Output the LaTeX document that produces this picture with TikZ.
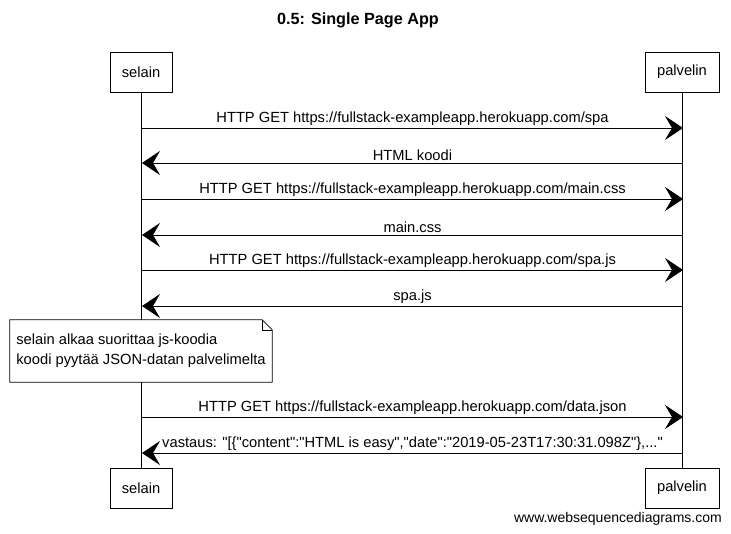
\documentclass[tikz,border=0pt]{standalone}
\usepackage{fontspec}
\setmainfont{Liberation Sans}[Ligatures=TeXOff]
\usetikzlibrary{arrows.meta, positioning}

\begin{document}
\begin{tikzpicture}[x=1pt, y=-1pt, >={Stealth[length=18pt, width=24pt, inset=7pt]},
    font=\fontsize{14.7}{17}\selectfont]
        % Tyylit
        \tikzstyle{osallistuja} = [draw, rectangle, fill=white, minimum height=40pt, inner xsep=12pt]
        \tikzstyle{viesti} = [->, line width=0.9pt]
        \tikzstyle{teksti} = [above, inner sep=2pt]
        \tikzstyle{muistio} = [fill=white, align=left, inner sep=6pt, minimum width=262pt, minimum height=62pt]

        \useasboundingbox (0,0) rectangle (731,533);

        % Otsikko
        \node [font=\fontsize{16.2}{19}\selectfont\bfseries] (otsikko) at (358,20) {0.5: Single Page App};

        % Osallistujat
        \node [osallistuja] (selain) at (141,72) {selain};
        \node [osallistuja] (palvelin) at (682,72) {palvelin};
        \node [osallistuja] (selainA) at (141,488) {selain};
        \node [osallistuja] (palvelinA) at (682,488) {palvelin};

        % Elämänviivat
        \draw [line width=0.8pt] (selain) -- (selainA);
        \draw [line width=0.8pt] (palvelin) -- (palvelinA);

        % Viestien päätepisteet
        \coordinate (s1) at (142,128); \coordinate (p1) at (683,128);
        \coordinate (s2) at (142,163); \coordinate (p2) at (683,163);
        \coordinate (s3) at (142,199); \coordinate (p3) at (683,199);
        \coordinate (s4) at (142,235); \coordinate (p4) at (683,235);
        \coordinate (s5) at (142,270); \coordinate (p5) at (683,270);
        \coordinate (s6) at (142,306); \coordinate (p6) at (683,306);
        \coordinate (s7) at (142,417); \coordinate (p7) at (683,417);
        \coordinate (s8) at (142,453); \coordinate (p8) at (683,453);

        % Viestit
        \draw [viesti] (s1) -- node[teksti] {HTTP GET https://fullstack-exampleapp.herokuapp.com/spa} (p1);
        \draw [viesti] (p2) -- node[teksti] {HTML koodi} (s2);
        \draw [viesti] (s3) -- node[teksti] {HTTP GET https://fullstack-exampleapp.herokuapp.com/main.css} (p3);
        \draw [viesti] (p4) -- node[teksti] {main.css} (s4);
        \draw [viesti] (s5) -- node[teksti] {HTTP GET https://fullstack-exampleapp.herokuapp.com/spa.js} (p5);
        \draw [viesti] (p6) -- node[teksti] {spa.js} (s6);

        % Muistio
        \node [muistio, font=\fontsize{14.7}{20}\selectfont] (huom) at (141,351) {selain alkaa suorittaa js-koodia\\koodi pyytää JSON-datan palvelimelta};
        \draw [line width=0.8pt] (huom.north west) -- ([xshift=-10pt]huom.north east)
            -- ([yshift=-10pt]huom.north east) -- (huom.south east) -- (huom.south west) -- cycle;
        \draw [line width=0.6pt] ([xshift=-10pt]huom.north east) -- ([xshift=-10pt, yshift=-10pt]huom.north east)
            -- ([yshift=-10pt]huom.north east);

        \draw [viesti] (s7) -- node[teksti] {HTTP GET https://fullstack-exampleapp.herokuapp.com/data.json} (p7);
        \draw [viesti] (p8) -- node[teksti] {vastaus: "[\{"content":"HTML is easy","date":"2019-05-23T17:30:31.098Z"\},..."} (s8);

        % Alaviite
        \node [anchor=east, inner sep=0pt, font=\fontsize{14}{16}\selectfont] (wsd) at (722,519) {www.websequencediagrams.com};

    \end{tikzpicture}
\end{document}
